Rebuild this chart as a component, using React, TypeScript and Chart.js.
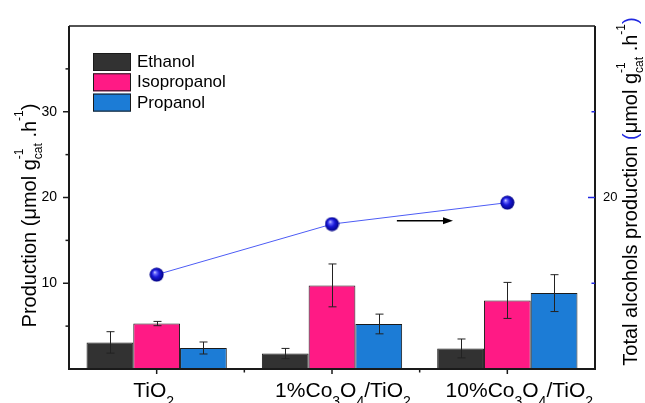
import React, { useEffect, useRef } from 'react';
import { Chart, registerables } from 'chart.js';

Chart.register(...registerables);

// ---------- data ----------
const categories = ['TiO_2', '1%Co_3O_4/TiO_2', '10%Co_3O_4/TiO_2'];
const seriesNames = ['Ethanol', 'Isopropanol', 'Propanol'];
const ethanol = [3.1, 1.8, 2.4];
const ethanolErr = [1.25, 0.6, 1.1];
const isopropanol = [5.3, 9.75, 8.0];
const isopropanolErr = [0.25, 2.5, 2.1];
const propanol = [2.45, 5.25, 8.85];
const propanolErr = [0.7, 1.15, 2.15];
const totalAlcohols = [15.5, 18.45, 19.7];
const leftTickLabels = [10, 20, 30];
const rightTickLabels = [20];
// arrow annotation (in category units / right-axis units)
const arrowFromCat = 1.37;
const arrowToCat = 1.69;
const arrowLevel = 18.65;

const FONT = '"Liberation Sans", Arial, Helvetica, sans-serif';
const colors = ['#323232', '#FF1A85', '#1C7CD6'];
const BLUE = '#2028e0';

type Seg = { t: string; size: number; dy: number; color: string; stack?: boolean };

function parseLabel(s: string, size: number, subSize: number, subDy: number): Seg[] {
  const segs: Seg[] = [];
  let buf = '';
  for (let i = 0; i < s.length; i++) {
    if (s[i] === '_' && i + 1 < s.length) {
      if (buf) segs.push({ t: buf, size, dy: 0, color: '#000' });
      buf = '';
      segs.push({ t: s[i + 1], size: subSize, dy: subDy, color: '#000' });
      i++;
    } else buf += s[i];
  }
  if (buf) segs.push({ t: buf, size, dy: 0, color: '#000' });
  return segs;
}

function drawRich(ctx: CanvasRenderingContext2D, segs: Seg[], x: number, y: number, angle: number) {
  let pos = 0;
  let prevStart = 0;
  const items: { s: Seg; x: number }[] = [];
  for (const s of segs) {
    ctx.font = `${s.size}px ${FONT}`;
    const w = ctx.measureText(s.t).width;
    const start = s.stack ? prevStart : pos;
    items.push({ s, x: start });
    pos = Math.max(pos, start + w);
    prevStart = start;
  }
  const off = -pos / 2;
  ctx.save();
  ctx.translate(x, y);
  ctx.rotate(angle);
  ctx.textAlign = 'left';
  ctx.textBaseline = 'alphabetic';
  for (const it of items) {
    ctx.font = `${it.s.size}px ${FONT}`;
    ctx.fillStyle = it.s.color;
    ctx.fillText(it.s.t, off + it.x, it.s.dy);
  }
  ctx.restore();
}

function unitSegs(main: number, small: number, subDy: number, supDy: number, parenColor: string): Seg[] {
  return [
    { t: '(', size: main, dy: 0, color: parenColor },
    { t: 'μmol g', size: main, dy: 0, color: '#000' },
    { t: 'cat', size: small, dy: subDy, color: '#000' },
    { t: '-1', size: small, dy: supDy, color: '#000', stack: true },
    { t: ' .h', size: main, dy: 0, color: '#000' },
    { t: '-1', size: small, dy: supDy, color: '#000' },
    { t: ')', size: main, dy: 0, color: parenColor },
  ];
}

const leftTitle: Seg[] = [
  { t: 'Production ', size: 20, dy: 0, color: '#000' },
  ...unitSegs(20, 12, 6, -13, '#000'),
];
const rightTitle: Seg[] = [
  { t: 'Total alcohols production ', size: 20, dy: 0, color: '#000' },
  ...unitSegs(20, 12, 6, -12, BLUE),
];

function makeSphere(): HTMLCanvasElement {
  const c = document.createElement('canvas');
  c.width = 15;
  c.height = 15;
  const g = c.getContext('2d')!;
  const grad = g.createRadialGradient(5.5, 5, 0, 7.5, 7.5, 7.5);
  grad.addColorStop(0, '#f0f2ff');
  grad.addColorStop(0.18, '#7070ff');
  grad.addColorStop(0.5, '#1818d8');
  grad.addColorStop(1, '#00007a');
  g.fillStyle = grad;
  g.beginPath();
  g.arc(7.5, 7.5, 7, 0, Math.PI * 2);
  g.fill();
  return c;
}

const decorPlugin = {
  id: 'decor',
  afterDatasetsDraw(chart: any) {
    const ctx: CanvasRenderingContext2D = chart.ctx;
    const ys = chart.scales.y;
    ctx.save();
    ctx.strokeStyle = '#222';
    ctx.lineWidth = 1;
    chart.data.datasets.forEach((ds: any, di: number) => {
      if (!ds.errors) return;
      const meta = chart.getDatasetMeta(di);
      meta.data.forEach((bar: any, i: number) => {
        const v = ds.data[i];
        const e = ds.errors[i];
        const x = Math.round(bar.x) + 0.5;
        const y1 = ys.getPixelForValue(v + e);
        const y2 = ys.getPixelForValue(v - e);
        ctx.beginPath();
        ctx.moveTo(x, y1);
        ctx.lineTo(x, y2);
        ctx.moveTo(x - 4, y1);
        ctx.lineTo(x + 4, y1);
        ctx.moveTo(x - 4, y2);
        ctx.lineTo(x + 4, y2);
        ctx.stroke();
      });
    });
    ctx.restore();
  },
  afterDraw(chart: any) {
    const ctx: CanvasRenderingContext2D = chart.ctx;
    const { left, right, top, bottom } = chart.chartArea;
    const xs = chart.scales.x;
    const ys = chart.scales.y;
    const y1s = chart.scales.y1;
    ctx.save();
    // frame
    ctx.strokeStyle = '#1a1a1a';
    ctx.lineWidth = 2;
    ctx.beginPath();
    ctx.moveTo(left, top);
    ctx.lineTo(left, bottom);
    ctx.lineTo(right, bottom);
    ctx.lineTo(right, top);
    ctx.stroke();
    ctx.lineWidth = 1.5;
    ctx.beginPath();
    ctx.moveTo(left, top);
    ctx.lineTo(right, top);
    ctx.stroke();
    // left ticks
    ctx.lineWidth = 1.5;
    for (let v = 5; v < 40; v += 5) {
      const y = ys.getPixelForValue(v);
      const len = v % 10 === 0 ? 6 : 3.5;
      ctx.beginPath();
      ctx.moveTo(left - len, y);
      ctx.lineTo(left, y);
      ctx.stroke();
    }
    // bottom ticks
    for (let i = 0; i < categories.length; i++) {
      const x = xs.getPixelForValue(i);
      ctx.beginPath();
      ctx.moveTo(x, bottom);
      ctx.lineTo(x, bottom + 5);
      ctx.stroke();
      if (i < categories.length - 1) {
        const xm = xs.getPixelForValue(i + 0.5);
        ctx.beginPath();
        ctx.moveTo(xm, bottom);
        ctx.lineTo(xm, bottom + 3.5);
        ctx.stroke();
      }
    }
    // right ticks (blue, inward)
    ctx.strokeStyle = BLUE;
    for (let v = 15; v < 30; v += 5) {
      const y = y1s.getPixelForValue(v);
      const len = v % 10 === 0 ? 7 : 3.5;
      ctx.beginPath();
      ctx.moveTo(right - len, y);
      ctx.lineTo(right, y);
      ctx.stroke();
    }
    // arrow
    const ax1 = xs.getPixelForValue(arrowFromCat);
    const ax2 = xs.getPixelForValue(arrowToCat);
    const ay = y1s.getPixelForValue(arrowLevel);
    ctx.strokeStyle = '#000';
    ctx.fillStyle = '#000';
    ctx.lineWidth = 1.5;
    ctx.beginPath();
    ctx.moveTo(ax1, ay);
    ctx.lineTo(ax2 - 8, ay);
    ctx.stroke();
    ctx.beginPath();
    ctx.moveTo(ax2, ay);
    ctx.lineTo(ax2 - 10, ay - 3.5);
    ctx.lineTo(ax2 - 10, ay + 3.5);
    ctx.closePath();
    ctx.fill();
    // x labels
    const nudges = [-3, 11, 12];
    categories.forEach((c, i) => {
      const x = xs.getPixelForValue(i) + nudges[i];
      drawRich(ctx, parseLabel(c, 21, 14, 9), x, bottom + 28, 0);
    });
    // axis titles
    drawRich(ctx, leftTitle, 36, (top + bottom) / 2 + 18, -Math.PI / 2);
    drawRich(ctx, rightTitle, 637, (top + bottom) / 2 - 6, -Math.PI / 2);
    // legend
    const lx = left + 24;
    let ly = top + 27;
    seriesNames.forEach((name, i) => {
      ctx.fillStyle = colors[i];
      ctx.fillRect(lx, ly, 38, 18);
      ctx.strokeStyle = '#1a1a1a';
      ctx.lineWidth = 1;
      ctx.strokeRect(lx + 0.5, ly + 0.5, 37, 17);
      ctx.fillStyle = '#000';
      ctx.font = `17px ${FONT}`;
      ctx.textAlign = 'left';
      ctx.textBaseline = 'middle';
      ctx.fillText(name, lx + 44, ly + 9.5);
      ly += 20.3;
    });
    ctx.restore();
  },
};

export default function App() {
  const ref = useRef<HTMLCanvasElement>(null);
  useEffect(() => {
    const canvas = ref.current!;
    const sphere = makeSphere();
    const barData = [ethanol, isopropanol, propanol];
    const errData = [ethanolErr, isopropanolErr, propanolErr];
    const chart = new Chart(canvas, {
      type: 'bar',
      data: {
        labels: categories,
        datasets: [
          {
            type: 'line',
            label: 'Total',
            data: totalAlcohols,
            yAxisID: 'y1',
            borderColor: '#4d5cf5',
            borderWidth: 1,
            pointStyle: sphere as any,
            pointRadius: 7,
            order: 0,
          } as any,
          ...seriesNames.map((name, i) => ({
            type: 'bar',
            label: name,
            data: barData[i],
            errors: errData[i],
            backgroundColor: colors[i],
            borderColor: '#1a1a1a',
            borderWidth: 1,
            categoryPercentage: 0.8,
            barPercentage: 1,
            yAxisID: 'y',
            order: 1,
          })),
        ],
      },
      options: {
        responsive: false,
        animation: false,
        devicePixelRatio: 1,
        layout: { padding: { top: 26, left: 0, right: 0, bottom: 0 } },
        plugins: { legend: { display: false }, tooltip: { enabled: false } },
        scales: {
          x: {
            type: 'category',
            offset: true,
            grid: { display: false, drawTicks: false },
            border: { display: false },
            ticks: { display: false },
            afterFit: (s: any) => { s.height = 34; },
          },
          y: {
            position: 'left',
            min: 0,
            max: 40,
            grid: { display: false, drawTicks: false },
            border: { display: false },
            ticks: {
              stepSize: 10,
              padding: 12,
              color: '#000',
              font: { family: FONT, size: 14 },
              callback: (v: any) => (leftTickLabels.includes(Number(v)) ? String(v) : ''),
            },
            afterFit: (s: any) => { s.width = 69; },
          },
          y1: {
            position: 'right',
            min: 10,
            max: 30,
            grid: { display: false, drawTicks: false },
            border: { display: false },
            ticks: {
              stepSize: 5,
              padding: 8,
              color: '#000',
              font: { family: FONT, size: 13 },
              callback: (v: any) => (rightTickLabels.includes(Number(v)) ? String(v) : ''),
            },
            afterFit: (s: any) => { s.width = 50; },
          },
        },
      } as any,
      plugins: [decorPlugin],
    });
    return () => chart.destroy();
  }, []);
  return (
    <div style={{ position: 'fixed', left: 0, top: 0, width: 645, height: 403, background: '#fff' }}>
      <canvas ref={ref} width={645} height={403} style={{ display: 'block', width: 645, height: 403 }} />
    </div>
  );
}
